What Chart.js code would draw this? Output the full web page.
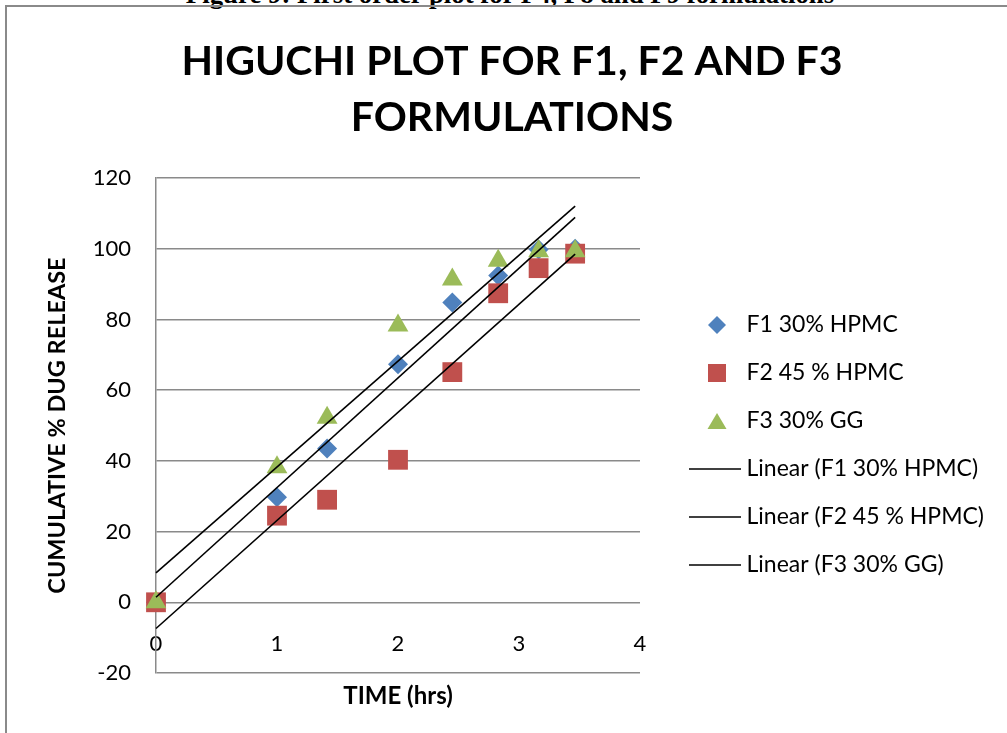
<!DOCTYPE html>
<html>
<head>
<meta charset="utf-8">
<title>Higuchi plot</title>
<script src="https://cdn.jsdelivr.net/npm/chart.js@4.4.1/dist/chart.umd.min.js"></script>
<style>
  html, body { margin: 0; padding: 0; background: #fff; }
  #wrap { position: relative; width: 1007px; height: 733px; overflow: hidden; }
  #caption { position: absolute; left: 0; width: 1020px; top: -19px; text-align: center;
             font: bold 26.8px "Liberation Serif", serif; line-height: 26.8px; white-space: nowrap; }
  #frame { position: absolute; left: 5px; top: 5px; width: 1100px; height: 800px;
           border-left: 2px solid #8a8a8a; border-top: 2px solid #8a8a8a; }
  #chart { position: absolute; left: 0; top: 0; }
</style>
</head>
<body>
<div id="wrap">
  <div id="caption">Figure 9: First order plot for F4, F8 and F9 formulations</div>
  <div id="frame"></div>
  <canvas id="chart" width="1007" height="733"></canvas>
</div>
<script>
// Dados (raiz do tempo vs % liberado)
const sqrtTime = [0, 1, 1.414, 2, 2.449, 2.828, 3.162, 3.464];
const f1Release = [0, 29.7, 43.5, 67.3, 84.8, 92.4, 99.8, 100];
const f2Release = [0, 24.5, 29.0, 40.3, 65.1, 87.4, 94.5, 98.6];
const f3Release = [0, 38.2, 52.2, 78.3, 91.3, 96.6, 99.3, 99.3];

const seriesNames = ['F1 30% HPMC', 'F2 45 % HPMC', 'F3 30% GG'];
const seriesColors = ['#4F81BD', '#C0504D', '#9BBB59'];
const seriesShapes = ['diamond', 'square', 'triangle'];

const yTicks = [-20, 0, 20, 40, 60, 80, 100, 120];
const xTicks = [0, 1, 2, 3, 4];

const FONT = 'Lato';
const legendFontSize = 23;
const legendGap = 25;

// Linha de tendência (mínimos quadrados), como a "Linear (...)" do Excel
function linearFit(xs, ys) {
    const n = xs.length;
    const mx = xs.reduce((a, b) => a + b, 0) / n;
    const my = ys.reduce((a, b) => a + b, 0) / n;
    let sxy = 0, sxx = 0;
    xs.forEach((x, i) => {
        sxy += (x - mx) * (ys[i] - my);
        sxx += (x - mx) * (x - mx);
    });
    const slope = sxy / sxx;
    const icpt = my - slope * mx;
    return [xs[0], xs[n - 1]].map(x => ({ x: x, y: icpt + slope * x }));
}

function toPoints(xs, ys) {
    return xs.map((x, i) => ({ x: x, y: ys[i] }));
}

// Ícones da legenda (desenhados num canvas pequeno)
const iconBox = 70;       // largura reservada ao ícone
const iconW = 84;         // largura real do canvas (centrado na caixa)
function makeIcon(kind, color) {
    const c = document.createElement('canvas');
    c.width = iconW;
    c.height = 22;
    const g = c.getContext('2d');
    g.fillStyle = color;
    g.strokeStyle = color;
    const cy = 11;
    const mx = iconW - 25;
    g.beginPath();
    if (kind === 'line') {
        g.lineWidth = 1.6;
        g.moveTo(iconW - 53, cy);
        g.lineTo(iconW - 1, cy);
        g.stroke();
        return c;
    } else if (kind === 'diamond') {
        g.moveTo(mx, cy - 9); g.lineTo(mx + 9, cy); g.lineTo(mx, cy + 9); g.lineTo(mx - 9, cy);
    } else if (kind === 'square') {
        g.rect(mx - 9, cy - 9, 18, 18);
    } else {
        g.moveTo(mx, cy - 8); g.lineTo(mx + 9.5, cy + 8); g.lineTo(mx - 9.5, cy + 8);
    }
    g.closePath();
    g.fill();
    return c;
}

const seriesData = [f1Release, f2Release, f3Release];
const pointStyles = { diamond: 'rectRot', square: 'rect', triangle: 'triangle' };
const pointSizes = { diamond: 10, square: 14, triangle: 12 };

const datasets = [];
seriesData.forEach((ys, i) => {
    datasets.push({
        label: seriesNames[i],
        data: toPoints(sqrtTime, ys),
        showLine: false,
        pointStyle: pointStyles[seriesShapes[i]],
        pointRadius: pointSizes[seriesShapes[i]],
        pointHoverRadius: pointSizes[seriesShapes[i]],
        backgroundColor: seriesColors[i],
        borderColor: seriesColors[i],
        borderWidth: 0,
        clip: false,
        order: 3 - i,
        _icon: makeIcon(seriesShapes[i], seriesColors[i])
    });
});
seriesData.forEach((ys, i) => {
    datasets.push({
        label: 'Linear (' + seriesNames[i] + ')',
        data: linearFit(sqrtTime, ys),
        showLine: true,
        borderColor: '#000',
        borderWidth: 1.6,
        pointRadius: 0,
        pointHoverRadius: 0,
        fill: false,
        clip: false,
        order: 0,
        _icon: makeIcon('line', '#000')
    });
});

// Ajuste de layout: largura da legenda depende do texto
const measure = document.createElement('canvas').getContext('2d');
measure.font = legendFontSize + 'px ' + FONT;
const widestLabel = Math.max(...datasets.map(d => measure.measureText(d.label).width));
const legendWidth = legendGap + iconBox + legendFontSize / 2 + widestLabel + 10;
const plotLeft = 156, plotRight = 640;
const padRight = Math.max(0, 1007 - plotRight - legendWidth);
const padLeft = padRight + 17;

Chart.defaults.color = '#000';
Chart.defaults.font.family = FONT;

let higuchiChart = null;
function initChart() {
    const ctx = document.getElementById('chart').getContext('2d');
    higuchiChart = new Chart(ctx, {
        type: 'scatter',
        data: { datasets: datasets },
        options: {
            responsive: false,
            animation: false,
            layout: { padding: { left: padLeft, right: padRight, top: 0, bottom: 0 } },
            scales: {
                x: {
                    type: 'linear',
                    position: 'bottom',
                    min: xTicks[0],
                    max: xTicks[xTicks.length - 1],
                    ticks: { display: false },
                    grid: { display: false, drawTicks: false },
                    border: { display: false },
                    title: {
                        display: true,
                        text: 'TIME (hrs)',
                        font: { family: FONT, size: 24, weight: 'bold', lineHeight: 1 },
                        padding: { top: 11, bottom: 25 }
                    }
                },
                xTicks: {
                    type: 'linear',
                    position: { y: 0 },
                    min: xTicks[0],
                    max: xTicks[xTicks.length - 1],
                    ticks: {
                        stepSize: xTicks[1] - xTicks[0],
                        font: { family: FONT, size: 22 },
                        padding: 28
                    },
                    grid: { display: false, drawTicks: false },
                    border: { display: false }
                },
                y: {
                    type: 'linear',
                    min: yTicks[0],
                    max: yTicks[yTicks.length - 1],
                    ticks: {
                        stepSize: yTicks[1] - yTicks[0],
                        font: { family: FONT, size: 22 },
                        padding: 25
                    },
                    grid: { color: '#8a8a8a', lineWidth: 1.5, drawTicks: false },
                    border: { color: '#8a8a8a', width: 1.5 },
                    title: {
                        display: true,
                        text: 'CUMULATIVE % DUG RELEASE',
                        font: { family: FONT, size: 23.5, weight: 'bold', lineHeight: 1 },
                        padding: { top: 46 - padLeft, bottom: 0 }
                    },
                    afterFit: function(scale) {
                        scale.width = plotLeft - padLeft;
                    }
                }
            },
            plugins: {
                title: {
                    display: true,
                    text: ['HIGUCHI PLOT FOR F1, F2 AND F3', 'FORMULATIONS'],
                    font: { family: FONT, size: 41, weight: 'bold', lineHeight: 56 / 41 },
                    padding: { top: 34, bottom: 32 }
                },
                legend: {
                    position: 'right',
                    align: 'center',
                    fullSize: false,
                    maxWidth: 500,
                    title: { display: true, text: ' ', font: { size: 10 }, padding: { top: 13.5, bottom: 13.5 } },
                    labels: {
                        usePointStyle: true,
                        pointStyleWidth: iconBox,
                        padding: legendGap,
                        font: { family: FONT, size: legendFontSize },
                        color: '#000',
                        generateLabels: function(chart) {
                            return chart.data.datasets.map((ds, i) => ({
                                text: ds.label,
                                pointStyle: ds._icon,
                                fillStyle: 'rgba(0,0,0,0)',
                                strokeStyle: 'rgba(0,0,0,0)',
                                lineWidth: 0,
                                hidden: false,
                                fontColor: '#000',
                                datasetIndex: i
                            }));
                        }
                    }
                },
                tooltip: { enabled: false }
            }
        }
    });
}

initChart();
</script>
</body>
</html>
